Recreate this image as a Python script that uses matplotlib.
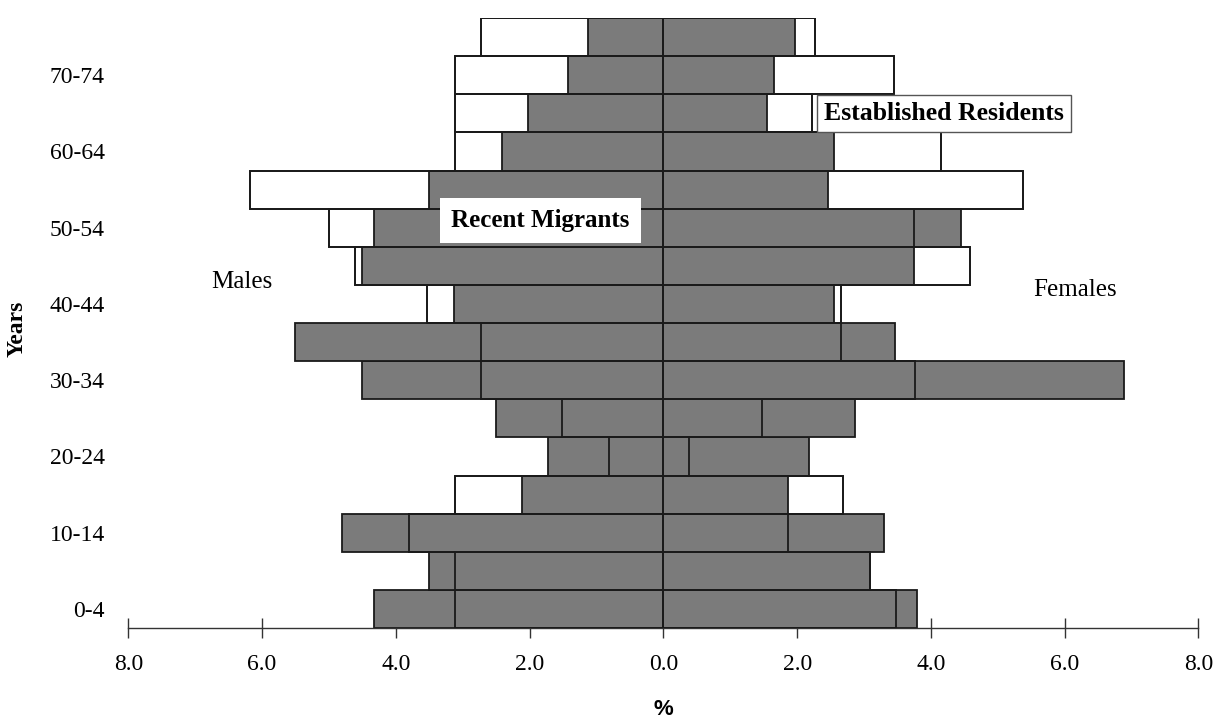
import matplotlib
matplotlib.use("Agg")
import matplotlib.pyplot as plt
import numpy as np

# Age groups, youngest first (bottom of the pyramid)
age_groups = ["0-4", "5-9", "10-14", "15-19", "20-24", "25-29", "30-34", "35-39",
              "40-44", "45-49", "50-54", "55-59", "60-64", "65-69", "70-74", "75+"]

# Percent of each population by age group
male_established   = [3.11, 3.11, 3.81, 3.11, 0.82, 1.52, 2.73, 2.73,
                      3.53, 4.61, 5.00, 6.18, 3.12, 3.12, 3.12, 2.73]
male_recent        = [4.32, 3.51, 4.80, 2.12, 1.72, 2.51, 4.51, 5.51,
                      3.13, 4.51, 4.32, 3.51, 2.42, 2.03, 1.42, 1.12]
female_established = [3.48, 3.09, 1.86, 2.68, 0.39, 1.48, 3.76, 2.66,
                      2.65, 4.59, 3.75, 5.37, 4.15, 2.22, 3.45, 2.26]
female_recent      = [3.79, 3.09, 3.30, 1.86, 2.17, 2.86, 6.89, 3.46,
                      2.55, 3.75, 4.45, 2.46, 2.55, 1.55, 1.66, 1.97]

x_ticks = [-8, -6, -4, -2, 0, 2, 4, 6, 8]
x_tick_labels = ["8.0", "6.0", "4.0", "2.0", "0.0", "2.0", "4.0", "6.0", "8.0"]

serif = ["Liberation Serif", "DejaVu Serif"]
plt.rcParams["font.family"] = serif

fig = plt.figure(figsize=(12.2, 7.22), dpi=100)
ax = fig.add_axes([0.1052, 0.1302, 0.8771, 0.8448])

y = np.arange(len(age_groups))
males_est = -np.array(male_established)
males_rec = -np.array(male_recent)
fem_est = np.array(female_established)
fem_rec = np.array(female_recent)

gray = "#7b7b7b"
edge = "#1a1a1a"
lw = 1.3

# Established residents: white bars underneath
ax.barh(y, males_est, height=1.0, color="white", edgecolor=edge, linewidth=lw, zorder=1)
ax.barh(y, fem_est, height=1.0, color="white", edgecolor=edge, linewidth=lw, zorder=1)
# Recent migrants: grey bars on top
ax.barh(y, males_rec, height=1.0, color=gray, edgecolor=edge, linewidth=lw, zorder=2)
ax.barh(y, fem_rec, height=1.0, color=gray, edgecolor=edge, linewidth=lw, zorder=2)
# Established residents outline redrawn so it shows through the grey
ax.barh(y, males_est, height=1.0, fill=False, edgecolor=edge, linewidth=lw, zorder=3)
ax.barh(y, fem_est, height=1.0, fill=False, edgecolor=edge, linewidth=lw, zorder=3)

ax.set_xlim(-8, 8)
ax.set_ylim(-0.5, len(age_groups) - 0.5)

for side in ["top", "right", "left"]:
    ax.spines[side].set_visible(False)
ax.spines["bottom"].set_color("#333333")
ax.spines["bottom"].set_linewidth(1.0)

ax.set_xticks(x_ticks)
ax.set_xticklabels(x_tick_labels, fontsize=17)
ax.tick_params(axis="x", direction="inout", length=14, width=1.0, color="#333333", pad=12)

ax.set_yticks(y[::2])
ax.set_yticklabels(age_groups[::2], fontsize=17)
ax.tick_params(axis="y", length=0, pad=17)

ax.set_xlabel("%", fontsize=16, fontweight="bold", family=["Liberation Sans", "DejaVu Sans"], labelpad=17)
ax.set_ylabel("Years", fontsize=17, fontweight="bold")
ax.yaxis.set_label_coords(-0.094, 0.49)

ax.text(-1.84, 10.18, "Recent Migrants", fontsize=18, fontweight="bold", ha="center", va="center",
        zorder=5, bbox=dict(facecolor="white", edgecolor="none", pad=8))
ax.text(4.2, 13.0, "Established Residents", fontsize=18.5, fontweight="bold", ha="center", va="center",
        zorder=5, bbox=dict(facecolor="white", edgecolor="#555555", linewidth=1.0, pad=5))

ax.text(-6.3, 8.58, "Males", fontsize=18, ha="center", va="center", zorder=5)
ax.text(6.15, 8.37, "Females", fontsize=18, ha="center", va="center", zorder=5)

fig.savefig("out.png", dpi=100, facecolor="white")
